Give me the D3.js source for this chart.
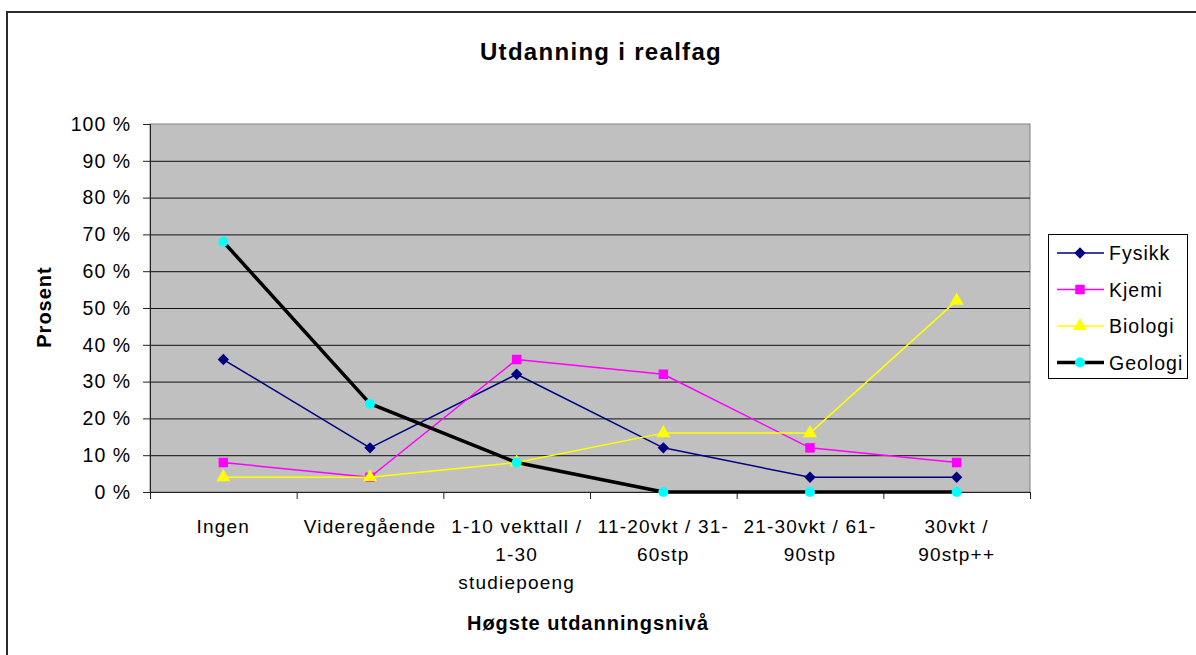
<!DOCTYPE html>
<html>
<head>
<meta charset="utf-8">
<script src="https://cdn.jsdelivr.net/npm/d3@7"></script>
<style>
  body { margin: 0; background: #fff; }
  text { font-family: "Liberation Sans", Arial, sans-serif; }
</style>
</head>
<body>
<div id="chart"></div>
<script>
// data
var categories = ["Ingen", "Videregående", "1-10 vekttall / 1-30 studiepoeng",
    "11-20vkt / 31-60stp", "21-30vkt / 61-90stp", "30vkt / 90stp++"];
var categoryLines = [["Ingen"], ["Videregående"], ["1-10 vekttall /", "1-30", "studiepoeng"],
    ["11-20vkt / 31-", "60stp"], ["21-30vkt / 61-", "90stp"], ["30vkt /", "90stp++"]];
var fysikk = [36, 12, 32, 12, 4, 4];
var kjemi = [8, 4, 36, 32, 12, 8];
var biologi = [4, 4, 8, 16, 16, 52];
var geologi = [68, 24, 8, 0, 0, 0];
var yTicks = [0, 10, 20, 30, 40, 50, 60, 70, 80, 90, 100];

var series = [
    { name: "Fysikk", values: fysikk, color: "#000080", width: 1.5, symbol: d3.symbolSquare, size: 64, rotate: 45 },
    { name: "Kjemi", values: kjemi, color: "#FF00FF", width: 1.5, symbol: d3.symbolSquare, size: 90, rotate: 0 },
    { name: "Biologi", values: biologi, color: "#FFFF00", width: 1.5, symbol: d3.symbolTriangle, size: 85, rotate: 0 },
    { name: "Geologi", values: geologi, color: "#000000", width: 3.5, symbol: d3.symbolCircle, size: 80, rotate: 0, markColor: "#00FFFF" }
];

var W = 1196, H = 655;
var plot = { left: 150, right: 1030, top: 124, bottom: 492 };

var svg = d3.select("#chart").append("svg")
    .attr("width", W)
    .attr("height", H);

// outer frame
svg.append("rect")
    .attr("x", 7).attr("y", 12)
    .attr("width", W).attr("height", H)
    .attr("fill", "#fff")
    .attr("stroke", "#2a2a2a")
    .attr("stroke-width", 2);

var x = d3.scaleBand().domain(categories).range([plot.left, plot.right]);
var y = d3.scaleLinear().domain([0, 100]).range([plot.bottom, plot.top]);

// plot background
svg.append("rect")
    .attr("x", plot.left).attr("y", plot.top)
    .attr("width", plot.right - plot.left).attr("height", plot.bottom - plot.top)
    .attr("fill", "#C0C0C0")
    .attr("stroke", "#808080");

// gridlines
svg.append("g").selectAll("line")
    .data(yTicks.filter(function (d) { return d > 0 && d < 100; }))
    .enter().append("line")
    .attr("x1", plot.left).attr("x2", plot.right)
    .attr("y1", function (d) { return y(d) + 0.5; })
    .attr("y2", function (d) { return y(d) + 0.5; })
    .attr("stroke", "#111")
    .attr("stroke-width", 1);

// y axis
var yAxis = svg.append("g")
    .attr("transform", "translate(" + plot.left + ",0)")
    .call(d3.axisLeft(y).tickValues(yTicks).tickSize(7).tickPadding(12)
        .tickFormat(function (d) { return d + " %"; }));
yAxis.select(".domain").attr("stroke", "#222");
yAxis.selectAll(".tick line").attr("stroke", "#222");
yAxis.selectAll("text")
    .attr("font-size", "19.5px")
    .attr("letter-spacing", "1px")
    .attr("fill", "#000")
    .style("font-family", "'Liberation Sans', Arial, sans-serif");

// x axis line + boundary ticks
var bounds = d3.range(categories.length + 1).map(function (i) { return plot.left + i * x.step(); });
svg.append("line")
    .attr("x1", plot.left).attr("x2", plot.right)
    .attr("y1", plot.bottom + 0.5).attr("y2", plot.bottom + 0.5)
    .attr("stroke", "#222");
svg.append("g").selectAll("line")
    .data(bounds)
    .enter().append("line")
    .attr("x1", function (d) { return d + 0.5; })
    .attr("x2", function (d) { return d + 0.5; })
    .attr("y1", plot.bottom).attr("y2", plot.bottom + 7)
    .attr("stroke", "#222");

// category labels
var labels = svg.append("g").selectAll("text")
    .data(categories)
    .enter().append("text")
    .attr("text-anchor", "middle")
    .attr("font-size", "19px")
    .attr("letter-spacing", "1.2px")
    .attr("fill", "#000");
labels.each(function (d, i) {
    var t = d3.select(this);
    categoryLines[i].forEach(function (line, j) {
        t.append("tspan")
            .attr("x", x(d) + x.bandwidth() / 2)
            .attr("y", 533 + j * 28)
            .text(line);
    });
});

// lines and markers
var line = d3.line()
    .x(function (d, i) { return x(categories[i]) + x.bandwidth() / 2; })
    .y(function (d) { return y(d); });

series.forEach(function (s) {
    var g = svg.append("g");
    g.append("path")
        .datum(s.values)
        .attr("d", line)
        .attr("fill", "none")
        .attr("stroke", s.color)
        .attr("stroke-width", s.width)
        .attr("stroke-linejoin", "round");
    g.selectAll("path.mark")
        .data(s.values)
        .enter().append("path")
        .attr("class", "mark")
        .attr("transform", function (d, i) {
            return "translate(" + (x(categories[i]) + x.bandwidth() / 2) + "," + y(d) + ") rotate(" + s.rotate + ")";
        })
        .attr("d", d3.symbol().type(s.symbol).size(s.size))
        .attr("fill", s.markColor || s.color);
});

// title
svg.append("text")
    .attr("x", 601).attr("y", 60)
    .attr("text-anchor", "middle")
    .attr("font-size", "24px")
    .attr("font-weight", "bold")
    .attr("letter-spacing", "1.3px")
    .text("Utdanning i realfag");

// axis titles
svg.append("text")
    .attr("x", 588).attr("y", 630)
    .attr("text-anchor", "middle")
    .attr("font-size", "20px")
    .attr("font-weight", "bold")
    .attr("letter-spacing", "1px")
    .text("Høgste utdanningsnivå");

svg.append("text")
    .attr("transform", "translate(51,307) rotate(-90)")
    .attr("text-anchor", "middle")
    .attr("font-size", "20px")
    .attr("font-weight", "bold")
    .attr("letter-spacing", "1px")
    .text("Prosent");

// legend
var legend = svg.append("g");
legend.append("rect")
    .attr("x", 1048.5).attr("y", 234.5)
    .attr("width", 139).attr("height", 144)
    .attr("fill", "#fff")
    .attr("stroke", "#000");

var items = legend.selectAll("g.item")
    .data(series)
    .enter().append("g")
    .attr("class", "item")
    .attr("transform", function (d, i) { return "translate(0," + (253 + i * 36.5) + ")"; });
items.append("line")
    .attr("x1", 1057).attr("x2", 1104)
    .attr("stroke", function (d) { return d.color; })
    .attr("stroke-width", function (d) { return d.width; });
items.append("path")
    .attr("transform", function (d) { return "translate(1080,0) rotate(" + d.rotate + ")"; })
    .attr("d", function (d) { return d3.symbol().type(d.symbol).size(d.size)(); })
    .attr("fill", function (d) { return d.markColor || d.color; });
items.append("text")
    .attr("x", 1109).attr("y", 7)
    .attr("font-size", "19.5px")
    .attr("letter-spacing", "1px")
    .text(function (d) { return d.name; });
</script>
</body>
</html>
